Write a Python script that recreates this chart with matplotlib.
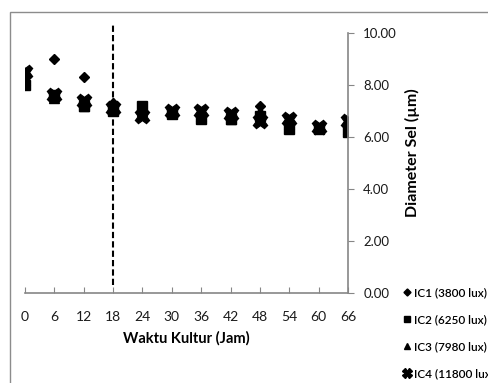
import matplotlib
matplotlib.use("Agg")
import matplotlib.pyplot as plt
from matplotlib.patches import Rectangle

plt.rcParams['font.family'] = ['Lato', 'DejaVu Sans']

hours = [0, 6, 12, 18, 24, 30, 36, 42, 48, 54, 60, 66]
ic1 = [8.3, 9.0, 8.3, 7.3, 7.0, 6.95, 6.8, 6.8, 7.2, 6.5, 6.35, 6.3]
ic2 = [8.0, 7.6, 7.2, 7.0, 7.2, 6.9, 6.7, 6.7, 6.8, 6.3, 6.3, 6.2]
ic3 = [8.2, 7.5, 7.2, 7.3, 7.0, 6.95, 6.8, 6.7, 7.0, 6.5, 6.35, 6.3]
ic4 = [8.5, 7.6, 7.4, 7.1, 6.8, 7.0, 7.0, 6.9, 6.6, 6.7, 6.4, 6.6]
labels = ['IC1 (3800 lux)', 'IC2 (6250 lux)', 'IC3 (7980 lux)', 'IC4 (11800 lux)']
y_ticks = [0, 2, 4, 6, 8, 10]
phase_boundary = 18

W, H = 489, 383
fig = plt.figure(figsize=(W / 100, H / 100), dpi=100)
ax = fig.add_axes([25 / W, 1 - 293 / H, (348 - 25) / W, (293 - 33) / H])

# chart area border
fig.patches.append(Rectangle((10 / W, -0.1), 1.2, 1 - 12 / H + 0.1, transform=fig.transFigure,
                             fill=False, edgecolor='#8c8c8c', linewidth=1.0))

gray = '#868686'
ax.plot(hours, ic1, linestyle='none', marker='D', markersize=5.5, color='black', label=labels[0])
ax.plot(hours, ic2, linestyle='none', marker='s', markersize=7, color='black', label=labels[1])
ax.plot(hours, ic3, linestyle='none', marker='^', markersize=7.5, color='black', label=labels[2])
ax.plot(hours, ic4, linestyle='none', marker='X', markersize=10.5, color='black', label=labels[3])

ax.plot([phase_boundary, phase_boundary], [0.03, 1.04], transform=ax.get_xaxis_transform(),
        color='black', linewidth=1.5, linestyle=(0, (3, 1.5)), clip_on=False)

ax.set_xlim(0, 66)
ax.set_ylim(0, 10)
ax.set_xticks(hours)
ax.set_xticklabels([str(h) for h in hours])
ax.set_yticks(y_ticks)
ax.set_yticklabels([f'{v:.2f}' for v in y_ticks])

ax.yaxis.tick_right()
ax.yaxis.set_label_position('right')
for s in ['top', 'left']:
    ax.spines[s].set_visible(False)
for s in ['right', 'bottom']:
    ax.spines[s].set_color(gray)
    ax.spines[s].set_linewidth(1.2)
ax.tick_params(axis='x', direction='in', length=4, color=gray, labelsize=10, pad=13, labelcolor='#1a1a1a')
ax.tick_params(axis='y', direction='out', length=4, color=gray, labelsize=9.5, pad=7, labelcolor='#1a1a1a')

ax.set_xlabel('Waktu Kultur (Jam)', fontsize=10.5, fontweight='bold', labelpad=6)
ax.set_ylabel('Diameter Sel (µm)', fontsize=11.5, fontweight='bold')
ax.yaxis.set_label_coords((405 - 25) / (348 - 25), (293 - 153) / (293 - 33))

fig.legend(loc='upper left', bbox_to_anchor=(403 / W, 1 - 287 / H), frameon=False,
           prop={'weight': 'semibold', 'size': 8.5}, handlelength=0.7, handletextpad=0.25,
           labelspacing=1.35, borderaxespad=0, borderpad=0, markerscale=0.65)

fig.savefig('out.png', dpi=100)
